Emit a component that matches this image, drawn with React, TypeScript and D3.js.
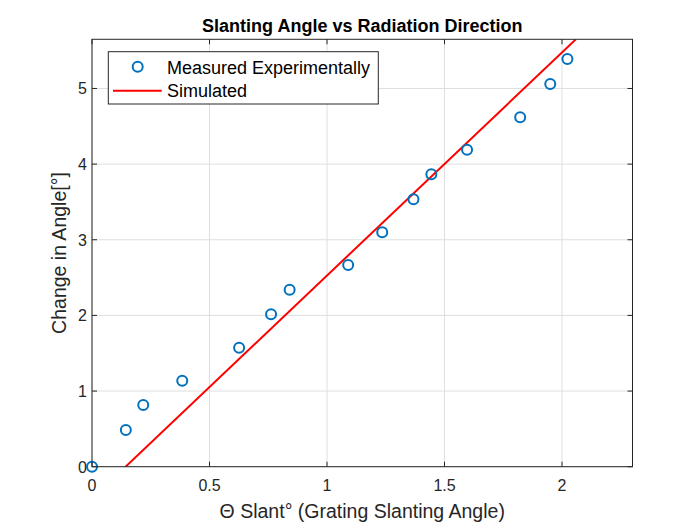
import React from 'react';
import * as d3 from 'd3';

// measured points
const measuredX = [0, 0.144, 0.218, 0.384, 0.626, 0.762, 0.841, 1.09, 1.235, 1.368, 1.444, 1.596, 1.822, 1.95, 2.023];
const measuredY = [0, 0.484, 0.815, 1.137, 1.574, 2.015, 2.34, 2.666, 3.1, 3.535, 3.866, 4.19, 4.62, 5.06, 5.39];

// simulated line
const simX = [0.143, 2.059];
const simY = [0, 5.65];

const xTicks = [0, 0.5, 1, 1.5, 2];
const yTicks = [0, 1, 2, 3, 4, 5];

const W = 700;
const H = 525;
const m = { left: 92, right: 632.5, top: 39.3, bottom: 466.7 };

export default function App() {
  const x = d3.scaleLinear().domain([0, 2.3]).range([m.left, m.right]);
  const y = d3.scaleLinear().domain([0, 5.65]).range([m.bottom, m.top]);
  const line = d3.line<number>().x((d) => x(d)).y((d, i) => y(simY[i]));
  const font = 'Arial, "Liberation Sans", Helvetica, sans-serif';
  const axisColor = '#262626';
  const tl = 5;

  return (
    <svg width={W} height={H} style={{ position: 'absolute', left: 0, top: 0, fontFamily: font }}>
      <rect width={W} height={H} fill="#fff" />
      <defs>
        <clipPath id="plot">
          <rect x={m.left} y={m.top} width={m.right - m.left} height={m.bottom - m.top} />
        </clipPath>
      </defs>
      {/* grid */}
      {xTicks.map((t) => (
        <line key={'gx' + t} x1={x(t)} x2={x(t)} y1={m.top} y2={m.bottom} stroke="#dfdfdf" strokeWidth={1} />
      ))}
      {yTicks.map((t) => (
        <line key={'gy' + t} x1={m.left} x2={m.right} y1={y(t)} y2={y(t)} stroke="#dfdfdf" strokeWidth={1} />
      ))}
      {/* ticks */}
      {xTicks.map((t) => (
        <g key={'tx' + t}>
          <line x1={x(t)} x2={x(t)} y1={m.bottom} y2={m.bottom - tl} stroke={axisColor} />
          <line x1={x(t)} x2={x(t)} y1={m.top} y2={m.top + tl} stroke={axisColor} />
          <text x={x(t)} y={m.bottom + 24} fontSize={16} textAnchor="middle" fill={axisColor}>{t}</text>
        </g>
      ))}
      {yTicks.map((t) => (
        <g key={'ty' + t}>
          <line x1={m.left} x2={m.left + tl} y1={y(t)} y2={y(t)} stroke={axisColor} />
          <line x1={m.right} x2={m.right - tl} y1={y(t)} y2={y(t)} stroke={axisColor} />
          <text x={m.left - 5} y={y(t) + 6} fontSize={16} textAnchor="end" fill={axisColor}>{t}</text>
        </g>
      ))}
      {/* data */}
      <g clipPath="url(#plot)">
        <path d={line(simX) || ''} fill="none" stroke="#ff0000" strokeWidth={2} />
      </g>
      {measuredX.map((d, i) => (
        <circle key={'p' + i} cx={x(d)} cy={y(measuredY[i])} r={5} fill="none" stroke="#0072bd" strokeWidth={2} />
      ))}
      {/* box */}
      <rect x={m.left} y={m.top} width={m.right - m.left} height={m.bottom - m.top} fill="none" stroke={axisColor} strokeWidth={1} />
      {/* labels */}
      <text x={(m.left + m.right) / 2} y={31.5} fontSize={18} fontWeight="bold" textAnchor="middle" fill="#000">
        Slanting Angle vs Radiation Direction
      </text>
      <text x={(m.left + m.right) / 2} y={518} fontSize={19.5} textAnchor="middle" fill={axisColor}>
        Θ Slant° (Grating Slanting Angle)
      </text>
      <text
        transform={`translate(66, ${(m.top + m.bottom) / 2}) rotate(-90)`}
        fontSize={19.5}
        textAnchor="middle"
        fill={axisColor}
      >
        Change in Angle[°]
      </text>
      {/* legend */}
      <g>
        <rect x={108.3} y={51.7} width={270} height={52.3} fill="#fff" stroke={axisColor} strokeWidth={1} />
        <circle cx={137.7} cy={66.7} r={5} fill="none" stroke="#0072bd" strokeWidth={2} />
        <text x={167} y={74} fontSize={18} fill="#000">Measured Experimentally</text>
        <line x1={113} x2={161.7} y1={90.7} y2={90.7} stroke="#ff0000" strokeWidth={2} />
        <text x={167} y={97} fontSize={18} fill="#000">Simulated</text>
      </g>
    </svg>
  );
}
